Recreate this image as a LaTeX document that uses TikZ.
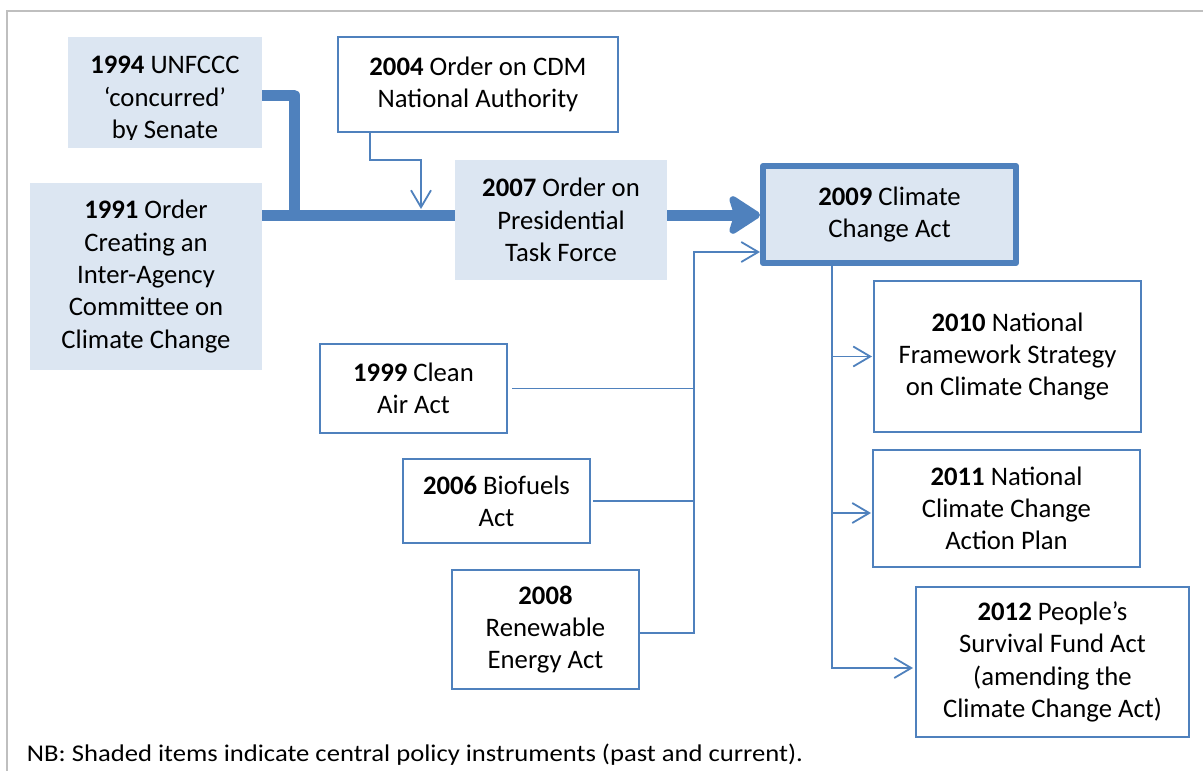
\documentclass[tikz,border=0pt]{standalone}
\usepackage{fontspec}
\setmainfont{Carlito}
\usetikzlibrary{arrows.meta,calc}
\definecolor{acc}{HTML}{4F81BD}
\definecolor{shade}{HTML}{DCE6F2}
\definecolor{framegray}{HTML}{BFBFBF}

\begin{document}
\begin{tikzpicture}[x=1pt,y=-1pt,
  every node/.style={font=\fontsize{26.7}{32.3}\selectfont, align=center, inner sep=0pt, outer sep=0pt},
  plainbox/.style={draw=acc, line width=1.3pt, fill=white},
  shadedbox/.style={fill=shade},
  keybox/.style={fill=shade, draw=acc, line width=6pt, line join=round},
  conn/.style={draw=acc, line width=1.8pt},
  arr/.style={conn, -{Straight Barb[length=17pt,width=20pt]}},
  trunk/.style={draw=acc, line width=11pt, line join=round},
]
\useasboundingbox (0,0) rectangle (1203,771);

% page frame (top and left edges)
\draw[framegray, line width=1.5pt] (1203,11) -- (7,11) -- (7,771);

% central (shaded) instruments
\node[shadedbox, minimum width=194pt, minimum height=111pt] (u1994) at (165,92.5) {};
\begin{scope}
  \clip (68,37) rectangle (262,139.5);
  \node (u1994t) at (165,99.5) {\textbf{1994} UNFCCC\\ ‘concurred’\\ by Senate};
\end{scope}
\node[shadedbox, minimum width=232pt, minimum height=187pt] (u1991) at (146,276.5)
  {\textbf{1991} Order\\ Creating an\\ Inter-Agency\\ Committee on\\ Climate Change};
\node[shadedbox, minimum width=212pt, minimum height=120pt] (o2007) at (561,220)
  {\textbf{2007} Order on\\ Presidential\\ Task Force};
\node[keybox, minimum width=253pt, minimum height=97pt] (c2009) at (889.5,214.5)
  {\textbf{2009} Climate\\ Change Act};

% other instruments
\node[plainbox, minimum width=280pt, minimum height=95pt] (o2004) at (478,84.5)
  {\textbf{2004} Order on CDM\\ National Authority};
\node[plainbox, minimum width=187pt, minimum height=89pt] (a1999) at (413.5,388.5)
  {\textbf{1999} Clean\\ Air Act};
\node[plainbox, minimum width=187pt, minimum height=84pt] (a2006) at (496.5,501)
  {\textbf{2006} Biofuels\\ Act};
\node[plainbox, minimum width=187pt, minimum height=119pt] (a2008) at (545.5,629.5)
  {\textbf{2008}\\ Renewable\\ Energy Act};
\node[plainbox, minimum width=267pt, minimum height=151pt] (n2010) at (1007.5,356.5)
  {\textbf{2010} National\\ Framework Strategy\\ on Climate Change};
\node[plainbox, minimum width=267pt, minimum height=117pt] (n2011) at (1006.5,508.5)
  {\textbf{2011} National\\ Climate Change\\ Action Plan};
\node[plainbox, minimum width=273pt, minimum height=150pt] (p2012) at (1052.5,662)
  {\textbf{2012} People’s\\ Survival Fund Act\\ (amending the\\ Climate Change Act)};

% routing points
\coordinate (jn) at (294,215);
\coordinate (top) at (294,95);
\coordinate (kbend) at (421,160);
\coordinate (ktip) at (421,209);
\coordinate (bus) at (694,252);
\coordinate (busend) at (694,633);
\coordinate (down) at (832,668);

% thick trunk into the 2007 order and on to the 2009 act
\draw[trunk] (u1994.east |- top) -| (jn);
\draw[trunk] (u1991.east |- jn) -- (o2007.west |- jn);
\draw[trunk, -{Stealth[length=36pt,width=46pt,inset=7pt,round]}, shorten >=3pt] (o2007.east |- jn) -- (c2009.west |- jn);

% 2004 order feeding the trunk
\draw[arr] ([xshift=-108pt]o2004.south) |- (kbend) -- (ktip);

% laws collected on a bus into the 2009 act
\draw[conn] ([xshift=5pt]a1999.east) -- (a1999.east -| bus);
\draw[conn] ([xshift=3pt]a2006.east) -- (a2006.east -| bus);
\draw[arr, shorten >=3pt] (a2008.east |- busend) -- (busend) -- (bus) -- (c2009.west |- bus);

% outputs of the 2009 act
\draw[arr, shorten >=3pt] (c2009.south -| down) -- (down) -- (p2012.west |- down);
\draw[arr, shorten >=2pt] (n2010.west -| down) -- (n2010.west);
\draw[arr, shorten >=2pt] ([yshift=-4.5pt]n2011.west -| down) -- ([yshift=-4.5pt]n2011.west);

% footnote
\node[anchor=base west, font=\fontsize{24}{28}\selectfont] (note) at (27,761.7)
  {\scalebox{1.11}[1]{NB: Shaded items indicate central policy instruments (past and current).}};
\end{tikzpicture}
\end{document}
